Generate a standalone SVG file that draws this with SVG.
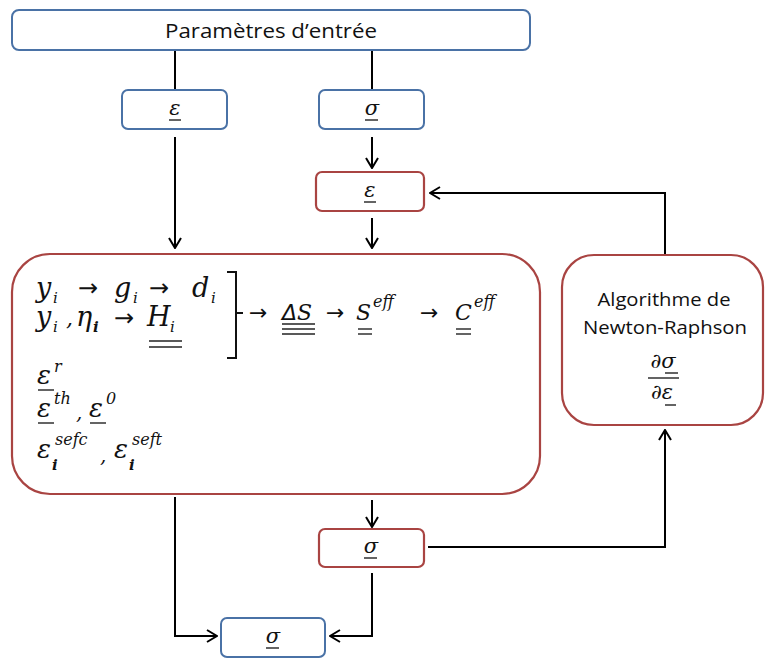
<svg xmlns="http://www.w3.org/2000/svg" width="765" height="660" viewBox="0 0 765 660">
<defs>
<style>
.blue{fill:#fff;stroke:#4a72a6;stroke-width:2}
.red{fill:#fff;stroke:#a94442;stroke-width:2.2}
.ln{fill:none;stroke:#000;stroke-width:2}
.ul{stroke:#222;stroke-width:1.4}
.lbl{font-family:"Open Sans","Liberation Sans",sans-serif;fill:#111}
.m{font-family:"DejaVu Serif","Liberation Serif",serif;font-style:italic;fill:#111}
.mu{font-family:"DejaVu Sans","Liberation Sans",sans-serif;fill:#111}
.sup{font-family:"DejaVu Serif","Liberation Serif",serif;font-style:italic;font-weight:normal;fill:#111;font-size:16px}
</style>
<marker id="ah" viewBox="0 0 12 14" refX="11" refY="7" markerWidth="12" markerHeight="14" markerUnits="userSpaceOnUse" orient="auto">
<path d="M1,1 L11,7 L1,13" fill="none" stroke="#000" stroke-width="2"/>
</marker>
</defs>
<rect width="765" height="660" fill="#fff"/>

<g id="connectors">
<line class="ln" x1="175" y1="50" x2="175" y2="89"/>
<line class="ln" x1="372" y1="50" x2="372" y2="89"/>
<line class="ln" x1="175" y1="137" x2="175" y2="248" marker-end="url(#ah)"/>
<line class="ln" x1="372" y1="137" x2="372" y2="168" marker-end="url(#ah)"/>
<line class="ln" x1="372" y1="218" x2="372" y2="248" marker-end="url(#ah)"/>
<polyline class="ln" points="665,255 665,193 430,193" marker-end="url(#ah)"/>
<line class="ln" x1="372" y1="500" x2="372" y2="527" marker-end="url(#ah)"/>
<polyline class="ln" points="428,547 665,547 665,430" marker-end="url(#ah)"/>
<polyline class="ln" points="175,497 175,636 217,636" marker-end="url(#ah)"/>
<polyline class="ln" points="372,573 372,636 330,636" marker-end="url(#ah)"/>
</g>

<g id="params">
<rect class="blue" x="12" y="10" width="518" height="40" rx="7"/>
<text class="lbl" x="271" y="38" font-size="20" text-anchor="middle" textLength="212" lengthAdjust="spacingAndGlyphs">Paramètres d’entrée</text>
</g>

<g id="eps-in">
<rect class="blue" x="122" y="90" width="105" height="39" rx="6"/>
<text class="m" x="175" y="115" font-size="21" text-anchor="middle">ε</text>
<line class="ul" x1="169" y1="120" x2="181" y2="120"/>
</g>

<g id="sig-in">
<rect class="blue" x="319" y="90" width="105" height="39" rx="6"/>
<text class="m" x="372" y="115" font-size="21" text-anchor="middle">σ</text>
<line class="ul" x1="365" y1="120" x2="378" y2="120"/>
</g>

<g id="eps-red">
<rect class="red" x="316" y="172" width="108" height="39" rx="6"/>
<text class="m" x="370" y="197" font-size="21" text-anchor="middle">ε</text>
<line class="ul" x1="364" y1="202" x2="376" y2="202"/>
</g>

<g id="main">
<rect class="red" x="12" y="254" width="528" height="240" rx="38"/>
<!-- line 1 -->
<text class="m" x="36" y="297" font-size="27">y</text>
<text class="m" x="53" y="303" font-size="15">i</text>
<text class="mu" x="78" y="296" font-size="24">→</text>
<text class="m" x="114" y="297" font-size="27">g</text>
<text class="m" x="133" y="303" font-size="15">i</text>
<text class="mu" x="149" y="296" font-size="24">→</text>
<text class="m" x="192" y="297" font-size="27">d</text>
<text class="m" x="211" y="303" font-size="15">i</text>
<!-- line 2 -->
<text class="m" x="36" y="326" font-size="27">y</text>
<text class="m" x="53" y="332" font-size="15">i</text>
<text class="m" x="66" y="326" font-size="22">,</text>
<text class="m" x="76" y="326" font-size="27">η</text>
<text class="m" x="93" y="332" font-size="15" font-weight="bold">i</text>
<text class="mu" x="114" y="326" font-size="24">→</text>
<text class="m" x="147" y="326" font-size="27">H</text>
<text class="m" x="170" y="332" font-size="15">i</text>
<line class="ul" x1="149" y1="341" x2="182" y2="341"/>
<line class="ul" x1="149" y1="347" x2="182" y2="347"/>
<!-- bracket -->
<path d="M227,272 H236 V358 H227 M236,313 H243" fill="none" stroke="#111" stroke-width="2"/>
<text class="mu" x="249" y="320" font-size="22">→</text>
<text class="mu" x="282" y="320" font-size="22" font-style="italic">Δ</text>
<text class="m" x="297" y="320" font-size="22">S</text>
<line class="ul" x1="282" y1="324" x2="315" y2="324"/>
<line class="ul" x1="282" y1="329" x2="315" y2="329"/>
<line class="ul" x1="282" y1="334" x2="315" y2="334"/>
<text class="mu" x="326" y="320" font-size="22">→</text>
<text class="m" x="356" y="320" font-size="22">S</text>
<text class="sup" x="373" y="307">eff</text>
<line class="ul" x1="358" y1="329" x2="372" y2="329"/>
<line class="ul" x1="358" y1="334" x2="372" y2="334"/>
<text class="mu" x="420" y="320" font-size="22">→</text>
<text class="m" x="455" y="320" font-size="22">C</text>
<text class="sup" x="474" y="307">eff</text>
<line class="ul" x1="456" y1="329" x2="471" y2="329"/>
<line class="ul" x1="456" y1="334" x2="471" y2="334"/>
<!-- eps r -->
<text class="m" x="37" y="384" font-size="26">ε</text>
<text class="sup" x="54" y="372">r</text>
<line class="ul" x1="38" y1="390" x2="54" y2="390"/>
<!-- eps th, eps 0 -->
<text class="m" x="37" y="417" font-size="26">ε</text>
<text class="sup" x="54" y="404">th</text>
<text class="m" x="76" y="419" font-size="20">,</text>
<line class="ul" x1="38" y1="423" x2="54" y2="423"/>
<text class="m" x="89" y="417" font-size="26">ε</text>
<text class="sup" x="106" y="404">0</text>
<line class="ul" x1="90" y1="423" x2="106" y2="423"/>
<!-- eps sefc, seft -->
<text class="m" x="37" y="458" font-size="26">ε</text>
<text class="m" x="52" y="470" font-size="15" font-weight="bold">i</text>
<text class="sup" x="55" y="445">sefc</text>
<text class="m" x="100" y="462" font-size="20">,</text>
<text class="m" x="114" y="458" font-size="26">ε</text>
<text class="m" x="129" y="470" font-size="15" font-weight="bold">i</text>
<text class="sup" x="132" y="445">seft</text>
</g>

<g id="newton">
<rect class="red" x="562" y="255" width="201" height="170" rx="32"/>
<text class="lbl" x="664" y="306" font-size="19" text-anchor="middle" textLength="133" lengthAdjust="spacingAndGlyphs">Algorithme de</text>
<text class="lbl" x="665" y="334" font-size="19" text-anchor="middle" textLength="164" lengthAdjust="spacingAndGlyphs">Newton-Raphson</text>
<text class="m" x="663" y="368" font-size="21" text-anchor="middle">∂σ</text>
<line class="ul" x1="665" y1="373" x2="678" y2="373"/>
<line class="ul" x1="648" y1="378" x2="679" y2="378"/>
<text class="m" x="662" y="399" font-size="21" text-anchor="middle">∂ε</text>
<line class="ul" x1="665" y1="405" x2="676" y2="405"/>
</g>

<g id="sig-red">
<rect class="red" x="319" y="529" width="105" height="38" rx="6"/>
<text class="m" x="371" y="553" font-size="21" text-anchor="middle">σ</text>
<line class="ul" x1="364" y1="558" x2="377" y2="558"/>
</g>

<g id="sig-out">
<rect class="blue" x="221" y="618" width="104" height="39" rx="6"/>
<text class="m" x="273" y="643" font-size="21" text-anchor="middle">σ</text>
<line class="ul" x1="266" y1="648" x2="279" y2="648"/>
</g>
</svg>
